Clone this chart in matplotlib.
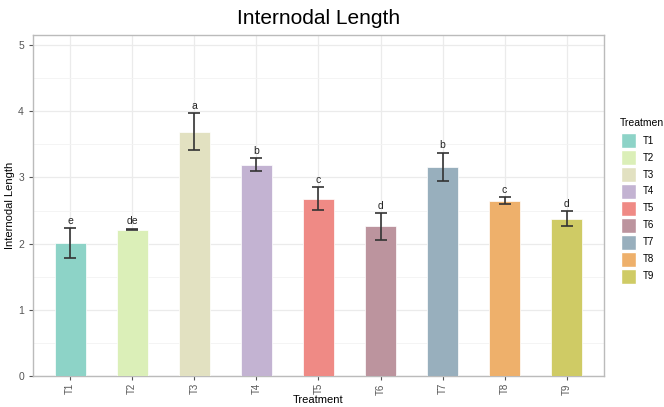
import matplotlib.pyplot as plt
from matplotlib.patches import Patch
from matplotlib.ticker import MultipleLocator

plt.rcParams["font.family"] = ["Liberation Sans", "DejaVu Sans"]

treatments = ["T1", "T2", "T3", "T4", "T5", "T6", "T7", "T8", "T9"]
means = [2.01, 2.21, 3.69, 3.19, 2.68, 2.26, 3.16, 2.65, 2.38]
errors = [0.22, 0.01, 0.28, 0.10, 0.17, 0.20, 0.21, 0.05, 0.11]
letters = ["e", "de", "a", "b", "c", "d", "b", "c", "d"]
colors = ["#8DD3C7", "#DBEFB8", "#E2E1C1", "#C3B3D2", "#EF8A85",
          "#BC949E", "#98AFBD", "#EEB06B", "#CFCB65"]

fig = plt.figure(figsize=(6.64, 4.07), dpi=100)
ax = fig.add_axes([0.0497, 0.0757, 0.8598, 0.8383])

x = range(len(treatments))
ax.bar(x, means, width=0.5, color=colors, edgecolor="white", linewidth=0.5, zorder=3)
ax.errorbar(x, means, yerr=errors, fmt="none", ecolor="#333333",
            elinewidth=1.2, capsize=4.5, capthick=1.2, zorder=4)
for xi, m, e, lab in zip(x, means, errors, letters):
    ax.text(xi, m + e + 0.04, lab, ha="center", va="bottom", fontsize=7.5,
            color="#222222", zorder=5)

ax.set_xlim(-0.6, 8.6)
ax.set_ylim(0, 5.15)
ax.set_xticks(list(x))
ax.set_xticklabels(treatments, rotation=90, fontsize=7, color="#555555")
ax.yaxis.set_major_locator(MultipleLocator(1))
ax.yaxis.set_minor_locator(MultipleLocator(0.5))
ax.tick_params(axis="y", labelsize=7.5, labelcolor="#555555", length=3, color="#555555")
ax.tick_params(axis="x", length=3, color="#555555", pad=2)
ax.tick_params(axis="y", which="minor", length=0)

ax.grid(which="major", color="#EBEBEB", linewidth=0.9, zorder=0)
ax.grid(which="minor", axis="y", color="#F3F3F3", linewidth=0.6, zorder=0)
for s in ax.spines.values():
    s.set_color("#BBBBBB")
    s.set_linewidth(1.0)

ax.set_xlabel("Treatment", fontsize=8, labelpad=0)
ax.set_ylabel("Internodal Length", fontsize=8, labelpad=2)
ax.set_title("Internodal Length", fontsize=15, pad=8)

# legend (title drawn separately so it lines up like ggplot's)
fig.text(620 / 664, 1 - 123 / 407, "Treatmen", fontsize=7.5, ha="left", va="center")
handles = [Patch(facecolor=c, edgecolor="white", label=t) for c, t in zip(colors, treatments)]
fig.legend(handles=handles, loc="upper left",
           bbox_to_anchor=(621 / 664, 1 - 133 / 407), frameon=False, fontsize=7,
           handlelength=1.55, handleheight=2.0, labelspacing=0.2,
           handletextpad=0.7, borderaxespad=0, borderpad=0)

fig.savefig("out.png", dpi=100, facecolor="white")
